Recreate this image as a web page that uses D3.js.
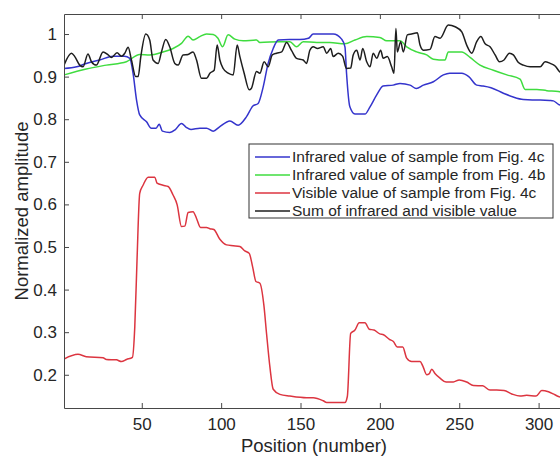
<!DOCTYPE html>
<html>
<head>
<meta charset="utf-8">
<script src="https://cdn.jsdelivr.net/npm/d3@7"></script>
<style>
  body { margin: 0; background: #fff; }
  svg { display: block; font-family: "Liberation Sans", Arial, sans-serif; }
</style>
</head>
<body>
<div id="chart"></div>
<script>
// values: [position, normalized amplitude]
const blueSeries = [[1,.919],[9,.923],[15,.931],[23.5,.939],[32,.948],[39,.948],[42.5,.943],[44.5,.908],[46.7,.845],[48.7,.810],[53,.794],[56,.779],[59,.779],[61,.788],[63,.772],[67.7,.769],[71,.775],[75,.790],[78,.781],[81,.776],[86.6,.779],[90.8,.779],[95,.772],[99,.782],[105.5,.796],[110.7,.786],[116,.806],[120,.831],[123.3,.837],[126.5,.876],[129.6,.931],[132.8,.966],[136,.986],[143,.987],[149.6,.987],[155,.99],[158,1.0],[165,1.0],[170.6,1.0],[175.9,.988],[178,.970],[179,.908],[181.1,.829],[184.3,.812],[190.6,.812],[193.8,.829],[198,.857],[202,.878],[208.4,.880],[212.7,.884],[219,.880],[223,.872],[227.4,.880],[233.7,.888],[240,.904],[244,.908],[251.6,.908],[256,.900],[261,.880],[265,.878],[270,.874],[277.8,.861],[284,.852],[290.4,.846],[296,.845],[301,.845],[307,.844],[309.3,.843],[312.5,.835],[316,.830]];

const greenSeries = [[1,.904],[15,.918],[27.7,.927],[40.3,.935],[48.7,.952],[55,.951],[63.4,.958],[69.7,.966],[75,.978],[79.2,.995],[82.3,.986],[86.6,.994],[90.8,1.0],[95,.999],[98,.99],[100.9,.970],[104.4,.998],[108.6,.988],[113.9,.984],[122.3,.986],[124.4,.980],[137,.982],[143.3,.982],[147.5,.970],[151.7,.982],[160.2,.980],[168.5,.980],[178,.977],[184.3,.986],[191.7,.994],[200,.992],[204.3,.984],[212.7,.984],[216.9,.970],[223.2,.958],[229.5,.951],[233.7,.941],[241,.939],[243.1,.958],[251.6,.958],[256.8,.945],[263.1,.927],[271.5,.915],[280,.904],[288.3,.894],[291.5,.870],[298.9,.870],[305.2,.867],[312.5,.865],[316,.862]];

const redSeries = [[1,.237],[9.8,.248],[15,.2425],[25.6,.240],[27.7,.236],[34,.235],[37.2,.231],[40.4,.236],[44.1,.241],[45.6,.313],[47,.469],[48.7,.626],[50.8,.645],[54,.664],[58.2,.664],[59.6,.650],[63.4,.645],[66.6,.642],[69.7,.622],[72.3,.599],[75,.548],[77.1,.549],[79.2,.581],[82.3,.583],[84.5,.567],[87,.546],[90.8,.546],[92.9,.543],[95.4,.541],[99.2,.518],[103.4,.505],[107.6,.503],[111.8,.501],[114.9,.491],[117.7,.485],[119.8,.454],[121.9,.419],[124.4,.415],[126.9,.364],[128.6,.297],[130.7,.219],[132.8,.166],[137,.154],[143.3,.150],[153.8,.146],[158,.146],[164.3,.139],[166.5,.135],[178,.135],[179.5,.149],[181.6,.297],[184.3,.305],[187,.322],[190.6,.322],[193.3,.307],[196.3,.305],[200,.296],[202.3,.294],[206,.283],[208.5,.278],[211,.265],[214.4,.265],[216.9,.239],[220,.231],[225.3,.231],[227,.221],[229.5,.200],[231,.202],[232.7,.213],[234.7,.203],[237.9,.192],[241.7,.183],[246.3,.183],[250,.188],[254.7,.183],[258.9,.175],[264.8,.174],[269.4,.164],[273.6,.164],[278.2,.163],[283.1,.155],[288.3,.150],[292.5,.152],[298.4,.150],[302,.163],[306.2,.160],[309.3,.155],[312.5,.149],[316,.146]];

const blackSeries = [[1,.927],[5.7,.955],[7.8,.947],[10.9,.927],[13,.923],[16.1,.953],[18.3,.935],[21.4,.927],[25.6,.958],[28.8,.951],[30.9,.945],[34.4,.956],[37.2,.948],[39.3,.955],[41.4,.969],[43.5,.939],[46.2,.900],[47.7,.900],[49.4,.947],[52.5,1.0],[55,.986],[57.1,.939],[60.3,.931],[62.4,.958],[65.1,.987],[67.6,.970],[70.8,.931],[72.9,.927],[76,.951],[79.2,.952],[82.3,.958],[84.5,.939],[87.6,.896],[90.8,.896],[92.9,.908],[95.6,.915],[97.5,.974],[99.2,.939],[101.3,.919],[104.4,.908],[107.6,.904],[110.1,.974],[111.8,.947],[114.5,.908],[117.7,.869],[119,.872],[122.3,.912],[124.4,.908],[127.1,.935],[129.6,.923],[132.2,.951],[134.9,.955],[138.1,.958],[141.2,.980],[144.4,.961],[147.5,.943],[151.7,.939],[153.8,.931],[155.9,.962],[158,.970],[160.7,.966],[164.3,.970],[166.5,.955],[169,.966],[170.6,.947],[173.8,.955],[176.5,.948],[179,.919],[181.6,.920],[183.2,.951],[185.4,.962],[187.5,.939],[189.2,.966],[191.7,.935],[193.8,.923],[195.8,.955],[198,.943],[200.5,.962],[202.1,.943],[204.7,.947],[207.4,.923],[208.9,.908],[210.1,1.013],[211,.958],[213.1,.982],[214.8,.958],[217.3,.998],[220,1.0],[223.6,1.003],[225.3,.974],[227.4,.962],[231.6,.964],[234.7,.994],[237.9,.990],[243.1,1.021],[247.4,1.017],[251.6,1.005],[254.7,.974],[257.9,.955],[261,.982],[263.6,.994],[266.3,.977],[269.4,.970],[272.6,.951],[275.3,.935],[278.2,.939],[281.6,.955],[284.1,.951],[287.3,.933],[290.4,.927],[294.7,.923],[301,.923],[304.1,.935],[307.3,.931],[310.4,.925],[313.1,.912],[316,.905]];

const xTicks = [50, 100, 150, 200, 250, 300];
const yTicks = [0.2, 0.3, 0.4, 0.5, 0.6, 0.7, 0.8, 0.9, 1];
const legendLabels = [
  'Infrared value of sample from Fig. 4c',
  'Infrared value of sample from Fig. 4b',
  'Visible value of sample from Fig. 4c',
  'Sum of infrared and visible value'
];

const W = 560, H = 456;
const margin = { top: 14, left: 64 };
const plotW = 500, plotH = 394;

const svg = d3.select('#chart').append('svg')
  .attr('width', W).attr('height', H);
svg.append('rect').attr('width', W).attr('height', H).attr('fill', '#fff');

const x = d3.scaleLinear().domain([1, 316]).range([margin.left, margin.left + plotW]);
const y = d3.scaleLinear().domain([0.122, 1.047]).range([margin.top + plotH, margin.top]);

svg.append('clipPath').attr('id', 'clip')
  .append('rect')
  .attr('x', margin.left).attr('y', margin.top)
  .attr('width', plotW).attr('height', plotH);

const line = d3.line()
  .x(d => x(d[0]))
  .y(d => y(d[1]))
  .curve(d3.curveMonotoneX);

// draw order: green, blue, red, black on top
const series = [
  { data: greenSeries, color: '#3fdc3f' },
  { data: blueSeries, color: '#3434cc' },
  { data: redSeries, color: '#dc3540' },
  { data: blackSeries, color: '#1e1e1e' }
];

const g = svg.append('g').attr('clip-path', 'url(#clip)');
series.forEach(s => {
  g.append('path')
    .datum(s.data)
    .attr('d', line)
    .attr('fill', 'none')
    .attr('stroke', s.color)
    .attr('stroke-width', 1.5)
    .attr('stroke-linejoin', 'round');
});

const axisColor = '#484848';
const textColor = '#262626';

function styleAxis(sel) {
  sel.selectAll('path, line').attr('stroke', axisColor);
  sel.selectAll('text').attr('fill', textColor).style('font-size', '17px');
  sel.attr('font-family', null);
}

svg.append('g')
  .attr('transform', 'translate(0,' + (margin.top + plotH) + ')')
  .call(d3.axisBottom(x).tickValues(xTicks).tickSizeInner(-5).tickSizeOuter(0).tickPadding(10))
  .call(styleAxis);

svg.append('g')
  .attr('transform', 'translate(0,' + margin.top + ')')
  .call(d3.axisTop(x).tickValues(xTicks).tickSizeInner(-5).tickSizeOuter(0).tickFormat(''))
  .call(styleAxis);

svg.append('g')
  .attr('transform', 'translate(' + margin.left + ',0)')
  .call(d3.axisLeft(y).tickValues(yTicks).tickSizeInner(-5).tickSizeOuter(0).tickPadding(7)
    .tickFormat(d => d === 1 ? '1' : d3.format('.1f')(d)))
  .call(styleAxis);

// axis titles
svg.append('text')
  .attr('x', margin.left + plotW / 2)
  .attr('y', 452)
  .attr('text-anchor', 'middle')
  .attr('fill', textColor)
  .style('font-size', '18.5px')
  .text('Position (number)');

svg.append('text')
  .attr('transform', 'translate(28,' + (margin.top + plotH / 2) + ') rotate(-90)')
  .attr('text-anchor', 'middle')
  .attr('fill', textColor)
  .style('font-size', '18.5px')
  .text('Normalized amplitude');

// legend
const legend = svg.append('g').attr('transform', 'translate(249,144)');
legend.append('rect')
  .attr('width', 304).attr('height', 74)
  .attr('fill', '#fff').attr('stroke', '#333').attr('stroke-width', 1);

const legendColors = ['#3434cc', '#3fdc3f', '#dc3540', '#1e1e1e'];
legendLabels.forEach((label, i) => {
  const ly = 13 + i * 18;
  legend.append('line')
    .attr('x1', 6).attr('x2', 41).attr('y1', ly).attr('y2', ly)
    .attr('stroke', legendColors[i]).attr('stroke-width', 1.5);
  legend.append('text')
    .attr('x', 43).attr('y', ly)
    .attr('dy', '0.35em')
    .attr('fill', textColor)
    .style('font-size', '15.5px')
    .text(label);
});
</script>
</body>
</html>
